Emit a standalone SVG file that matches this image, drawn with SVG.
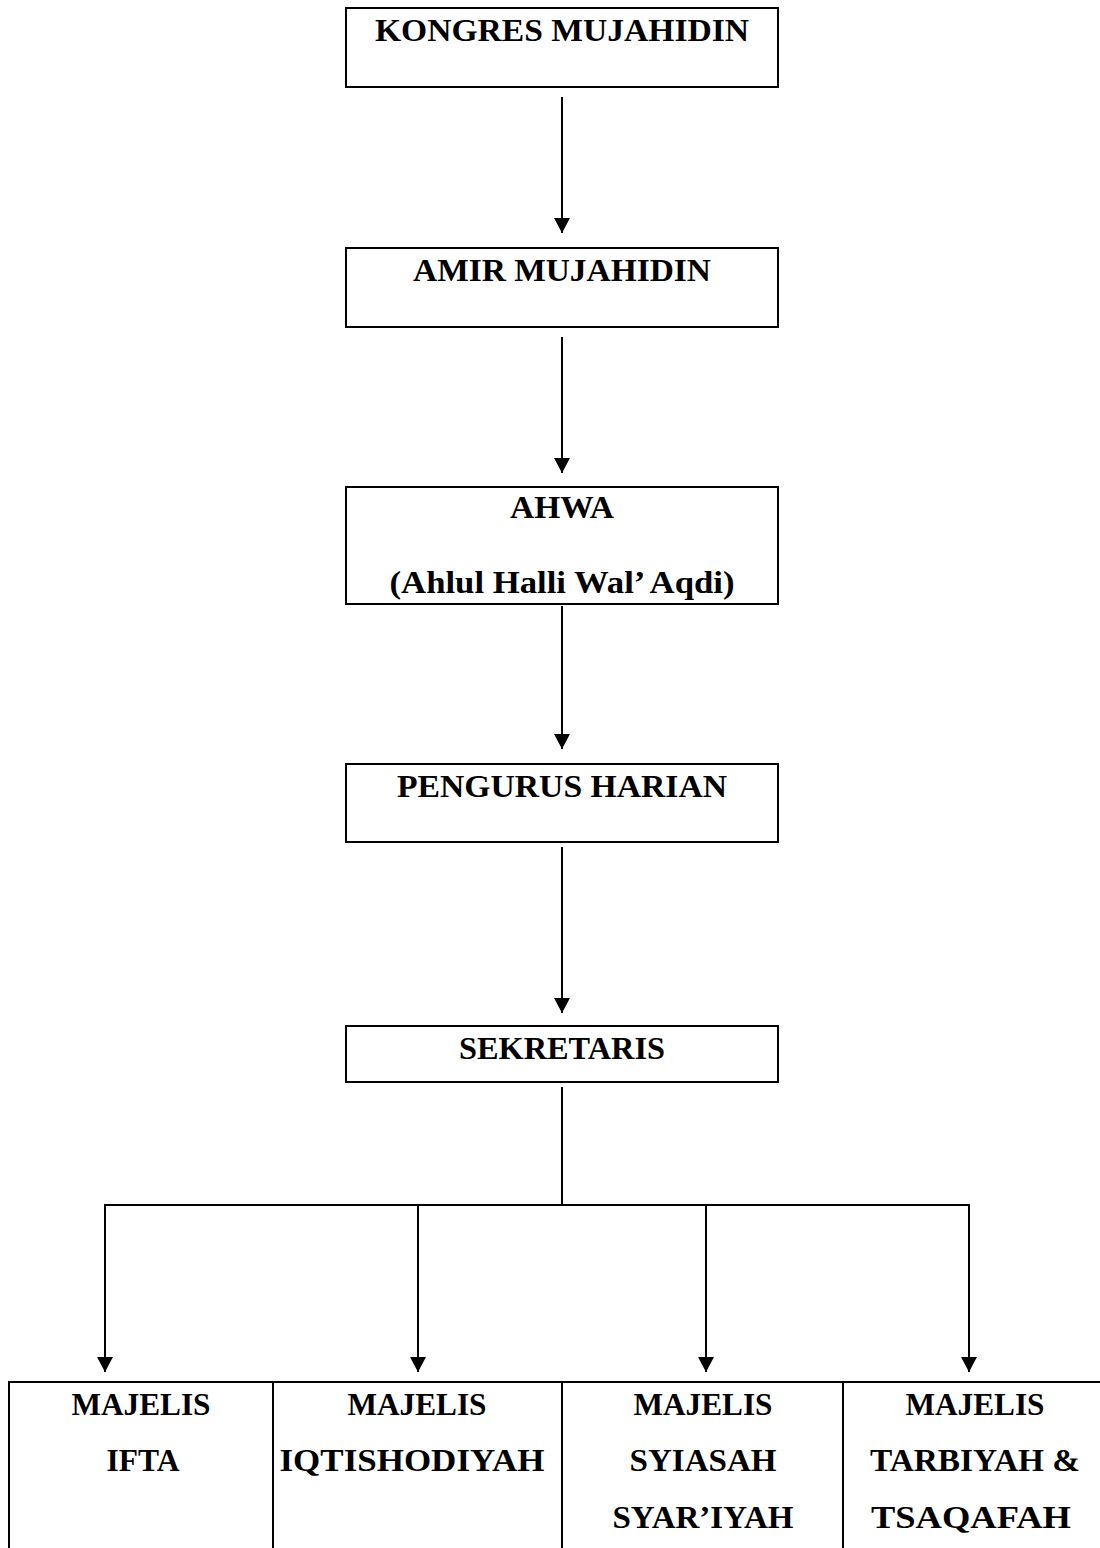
<svg xmlns="http://www.w3.org/2000/svg" width="1100" height="1548" viewBox="0 0 1100 1548">
<style>
.box{fill:#fff;stroke:#000;stroke-width:2}
.t{font-family:"Liberation Serif","Times New Roman",serif;font-weight:bold;font-size:32px;fill:#000;text-anchor:middle}
.c{stroke:#000;stroke-width:2;fill:none}
</style>
<defs>
<marker id="ah" markerUnits="userSpaceOnUse" markerWidth="16" markerHeight="16" refX="15" refY="8" orient="auto">
<path d="M0,0 L15,8 L0,16 Z" fill="#000"/>
</marker>
</defs>
<rect width="1100" height="1548" fill="#fff"/>
<g id="kongres">
<rect class="box" x="346" y="8" width="432" height="79"/>
<text class="t" x="562" y="41" textLength="374" lengthAdjust="spacingAndGlyphs">KONGRES MUJAHIDIN</text>
</g>
<g id="amir">
<rect class="box" x="346" y="248" width="432" height="79"/>
<text class="t" x="562" y="281" textLength="298" lengthAdjust="spacingAndGlyphs">AMIR MUJAHIDIN</text>
</g>
<g id="ahwa">
<rect class="box" x="346" y="487" width="432" height="117"/>
<text class="t" x="562" y="518" textLength="104" lengthAdjust="spacingAndGlyphs">AHWA</text>
<text class="t" x="562" y="593" textLength="345" lengthAdjust="spacingAndGlyphs">(Ahlul Halli Wal’ Aqdi)</text>
</g>
<g id="pengurus">
<rect class="box" x="346" y="764" width="432" height="78"/>
<text class="t" x="562" y="797" textLength="330" lengthAdjust="spacingAndGlyphs">PENGURUS HARIAN</text>
</g>
<g id="sekretaris">
<rect class="box" x="346" y="1026" width="432" height="56"/>
<text class="t" x="562" y="1059" textLength="206" lengthAdjust="spacingAndGlyphs">SEKRETARIS</text>
</g>
<g id="connectors">
<line class="c" x1="562" y1="97" x2="562" y2="233" marker-end="url(#ah)"/>
<line class="c" x1="562" y1="337" x2="562" y2="473" marker-end="url(#ah)"/>
<line class="c" x1="562" y1="606" x2="562" y2="749" marker-end="url(#ah)"/>
<line class="c" x1="562" y1="847" x2="562" y2="1013" marker-end="url(#ah)"/>
<line class="c" x1="562" y1="1087" x2="562" y2="1205"/>
<line class="c" x1="104" y1="1205" x2="970" y2="1205"/>
<line class="c" x1="105" y1="1205" x2="105" y2="1372" marker-end="url(#ah)"/>
<line class="c" x1="418" y1="1205" x2="418" y2="1372" marker-end="url(#ah)"/>
<line class="c" x1="706" y1="1205" x2="706" y2="1372" marker-end="url(#ah)"/>
<line class="c" x1="969" y1="1205" x2="969" y2="1372" marker-end="url(#ah)"/>
</g>
<g id="majelis-ifta">
<rect class="box" x="9" y="1382" width="264" height="180"/>
<text class="t" x="141" y="1415" textLength="139" lengthAdjust="spacingAndGlyphs">MAJELIS</text>
<text class="t" x="143" y="1471" textLength="73" lengthAdjust="spacingAndGlyphs">IFTA</text>
</g>
<g id="majelis-iqtishodiyah">
<rect class="box" x="273" y="1382" width="289" height="180"/>
<text class="t" x="417" y="1415" textLength="139" lengthAdjust="spacingAndGlyphs">MAJELIS</text>
<text class="t" x="412" y="1471" textLength="265" lengthAdjust="spacingAndGlyphs">IQTISHODIYAH</text>
</g>
<g id="majelis-syiasah">
<rect class="box" x="562" y="1382" width="281" height="180"/>
<text class="t" x="703" y="1415" textLength="139" lengthAdjust="spacingAndGlyphs">MAJELIS</text>
<text class="t" x="703" y="1471" textLength="147" lengthAdjust="spacingAndGlyphs">SYIASAH</text>
<text class="t" x="703" y="1528" textLength="181" lengthAdjust="spacingAndGlyphs">SYAR’IYAH</text>
</g>
<g id="majelis-tarbiyah">
<rect class="box" x="843" y="1382" width="270" height="180"/>
<text class="t" x="975" y="1415" textLength="139" lengthAdjust="spacingAndGlyphs">MAJELIS</text>
<text class="t" x="975" y="1471" textLength="210" lengthAdjust="spacingAndGlyphs">TARBIYAH &amp;</text>
<text class="t" x="971" y="1528" textLength="200" lengthAdjust="spacingAndGlyphs">TSAQAFAH</text>
</g>
</svg>
